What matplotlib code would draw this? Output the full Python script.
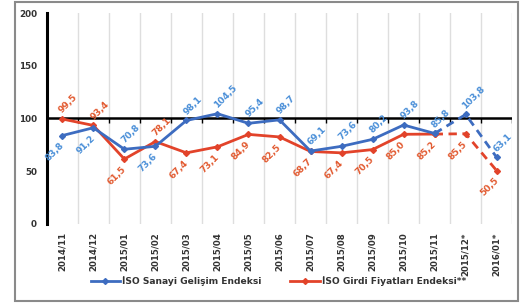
import matplotlib
matplotlib.use("Agg")
import matplotlib.pyplot as plt
from matplotlib.lines import Line2D
from matplotlib.patches import Rectangle

categories = ["2014/11", "2014/12", "2015/01", "2015/02", "2015/03", "2015/04", "2015/05",
              "2015/06", "2015/07", "2015/08", "2015/09", "2015/10", "2015/11", "2015/12*", "2016/01*"]
sanayi = [83.8, 91.2, 70.8, 73.6, 98.1, 104.5, 95.4, 98.7, 69.1, 73.6, 80.2, 93.8, 85.8, 103.8, 63.1]
girdi = [99.5, 93.4, 61.5, 78.1, 67.4, 73.1, 84.9, 82.5, 68.7, 67.4, 70.5, 85.0, 85.2, 85.5, 50.5]
sanayi_pos = ["b", "b", "a", "b", "a", "a", "a", "a", "a", "a", "a", "a", "a", "a", "a"]
girdi_pos = ["a", "a", "b", "a", "b", "b", "b", "b", "b", "b", "b", "b", "b", "b", "b"]
yticks = [0, 50, 100, 150, 200]
legend_labels = ["İSO Sanayi Gelişim Endeksi", "İSO Girdi Fiyatları Endeksi**"]

BLUE = "#3d6cc0"
BLUE_L = "#4a8fd8"
RED = "#e2432a"
RED_L = "#e25a30"

fig = plt.figure(figsize=(5.2, 3.03), dpi=100)
fig.patches.append(Rectangle((0.029, 0.008), 0.968, 0.985, transform=fig.transFigure,
                             fill=False, edgecolor="#8a8a8a", linewidth=1.5))
ax = fig.add_axes([0.090, 0.261, 0.895, 0.696])

n = len(categories)
x = list(range(n))

for b in [i + 0.5 for i in range(-1, n)]:
    ax.axvline(b, color="#dedede", linewidth=1.0, zorder=0)

ax.axhline(100, color="black", linewidth=1.8, zorder=1)
ax.vlines([i + 0.5 for i in range(-1, n)], 96, 100, color="black", linewidth=1.0, zorder=1)

for vals, col in [(girdi, RED), (sanayi, BLUE)]:
    ax.plot(x[:n - 2], vals[:n - 2], color=col, linewidth=2, marker="D", markersize=3, zorder=3)
    ax.plot(x[n - 3:], vals[n - 3:], color=col, linewidth=2, linestyle=(0, (3, 2)),
            marker="D", markersize=3, zorder=3)

def lab(vals, pos, col):
    for i, (v, p) in enumerate(zip(vals, pos)):
        t = f"{v:.1f}".replace(".", ",")
        if p == "a":
            ax.annotate(t, (i, v), xytext=(1, 3), textcoords="offset points", rotation=45,
                        ha="left", va="bottom", color=col, fontsize=6.5, fontweight="bold",
                        rotation_mode="anchor", zorder=4)
        else:
            ax.annotate(t, (i, v), xytext=(-2, -4), textcoords="offset points", rotation=45,
                        ha="right", va="top", color=col, fontsize=6.5, fontweight="bold",
                        rotation_mode="anchor", zorder=4)

lab(sanayi, sanayi_pos, BLUE_L)
lab(girdi, girdi_pos, RED_L)

ax.set_xlim(-0.5, n - 0.5)
ax.set_ylim(0, 200)
ax.set_yticks(yticks)
ax.set_yticklabels([str(v) for v in yticks], fontsize=6.3, fontweight="bold", color="#333333")
ax.set_xticks(x)
ax.set_xticklabels(categories, rotation=90, fontsize=6.2, fontweight="bold", color="#333333")
ax.tick_params(axis="both", length=0, pad=6)
ax.tick_params(axis="y", pad=7)
for s in ["top", "right", "bottom"]:
    ax.spines[s].set_visible(False)
ax.spines["left"].set_linewidth(2.2)
ax.spines["left"].set_color("black")

handles = [Line2D([], [], color=BLUE, linewidth=2, marker="D", markersize=3),
           Line2D([], [], color=RED, linewidth=2, marker="D", markersize=3)]
fig.legend(handles, legend_labels, loc="center", bbox_to_anchor=(0.535, 0.073), ncol=2,
           frameon=False, prop={"size": 6.6, "weight": "bold"}, handlelength=3.2,
           handletextpad=0.2, columnspacing=3.2, labelcolor="#333333")

fig.savefig("out.png", dpi=100)
